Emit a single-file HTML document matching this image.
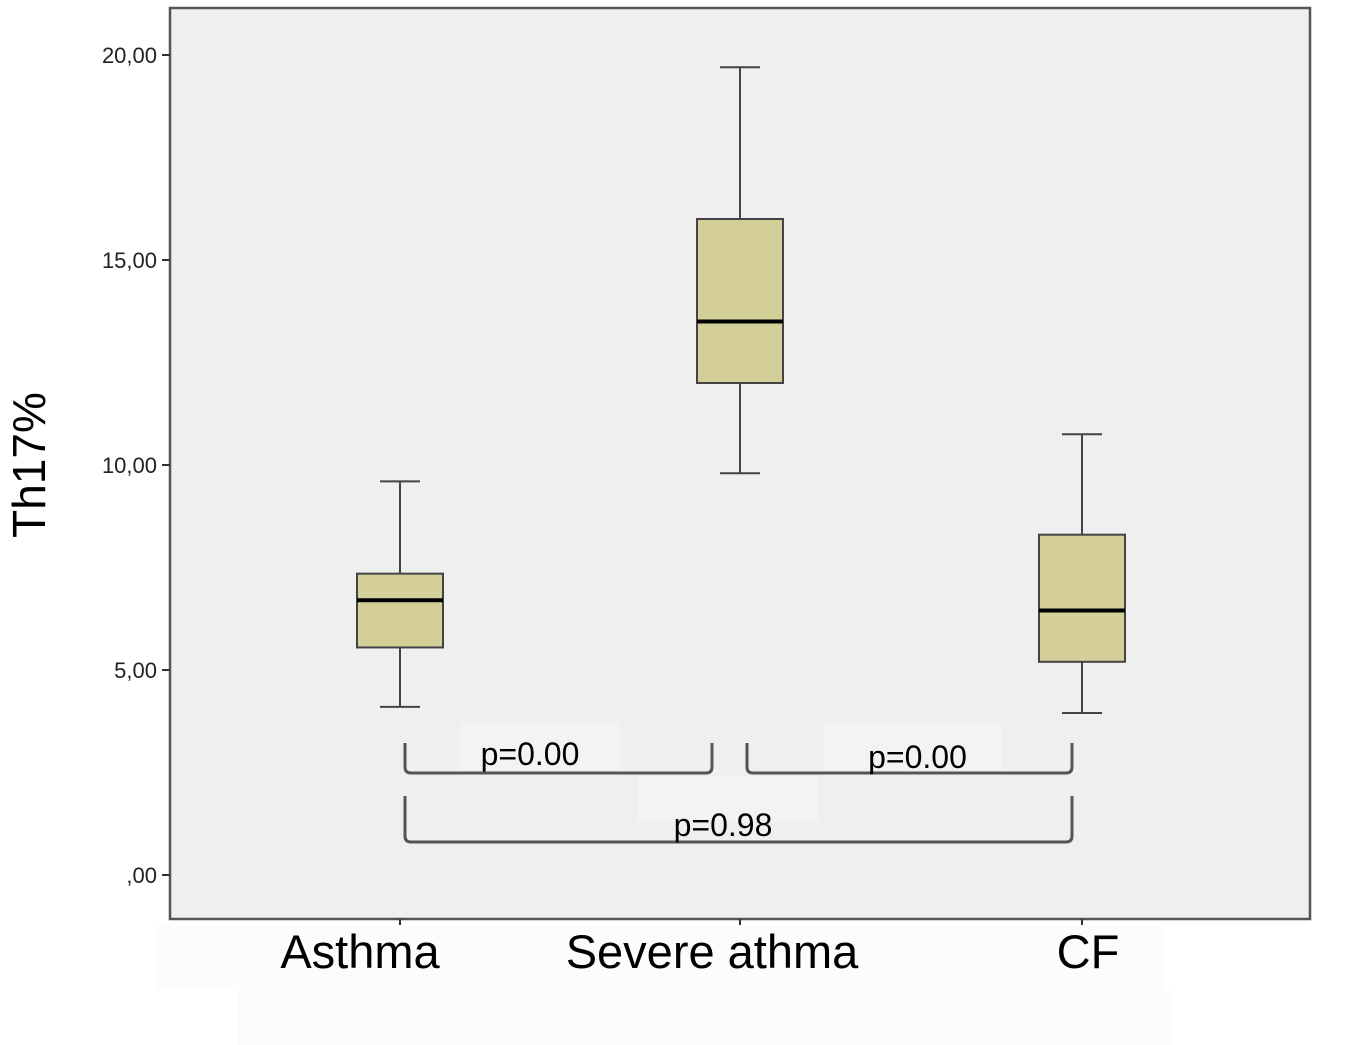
<!DOCTYPE html>
<html><head><meta charset="utf-8"><style>
body{margin:0;background:#fff;}
svg{display:block;font-family:"Liberation Sans",Arial,sans-serif;}
</style></head><body>
<svg id="c" width="1357" height="1045">
<rect x="155" y="925" width="1010" height="65" fill="#fcfcfc"/>
<rect x="238" y="990" width="935" height="55" fill="#fbfbfb"/>
<rect x="170" y="8" width="1140" height="911" fill="#efefef" stroke="#555" stroke-width="2.5"/>
<g id="axis"></g>
<g id="boxes"></g>
<g id="brackets" fill="none" stroke="#555" stroke-width="3"></g>
<text x="0" y="0" transform="translate(45,465) rotate(-90)" text-anchor="middle" font-size="46" fill="#000">Th17%</text>
</svg>
<script>
const categories = ["Asthma","Severe athma","CF"];
const whiskerLow = [4.1, 9.8, 3.95];
const q1 = [5.55, 12.0, 5.2];
const medians = [6.7, 13.5, 6.45];
const q3 = [7.35, 16.0, 8.3];
const whiskerHigh = [9.6, 19.7, 10.75];
const yTicks = [0,5,10,15,20];
const yTickLabels = [",00","5,00","10,00","15,00","20,00"];
const pLabels = ["p=0.00","p=0.00","p=0.98"];

const NS="http://www.w3.org/2000/svg";
const y = v => 875 - 41*v;
const x = i => [400,740,1082][i];
function mk(tag, attrs, parent){const e=document.createElementNS(NS,tag);for(const k in attrs)e.setAttribute(k,attrs[k]);parent.appendChild(e);return e;}
const ax=document.getElementById('axis'), bx=document.getElementById('boxes'), br=document.getElementById('brackets');

yTicks.forEach((t,i)=>{
  const l=mk('line',{x1:162,x2:170,y1:y(t),y2:y(t),stroke:'#333','stroke-width':2},ax);
  
  
  const tx=mk('text',{x:157,y:y(t)+8,'text-anchor':'end','font-size':22,fill:'#222'},ax);
  tx.textContent=yTickLabels[i];
  
  
});
categories.forEach((c,i)=>{
  const cx=x(i);
  const t=mk('line',{x1:cx,x2:cx,y1:919,y2:925,stroke:'#333','stroke-width':2},ax);
  
  
  const lbl=mk('text',{x:[360,712,1088][i],y:968,'text-anchor':'middle','font-size':47,fill:'#000'},ax);
  lbl.textContent=c;
  
  
  const g=mk('g',{},bx);
  
  
  mk('line',{x1:cx,x2:cx,y1:y(whiskerHigh[i]),y2:y(q3[i]),stroke:'#444','stroke-width':2},g);
  mk('line',{x1:cx,x2:cx,y1:y(q1[i]),y2:y(whiskerLow[i]),stroke:'#444','stroke-width':2},g);
  mk('line',{x1:cx-20,x2:cx+20,y1:y(whiskerHigh[i]),y2:y(whiskerHigh[i]),stroke:'#444','stroke-width':2},g);
  mk('line',{x1:cx-20,x2:cx+20,y1:y(whiskerLow[i]),y2:y(whiskerLow[i]),stroke:'#444','stroke-width':2},g);
  mk('rect',{x:cx-43,y:y(q3[i]),width:86,height:y(q1[i])-y(q3[i]),fill:'#d4cf98',stroke:'#444','stroke-width':2},g);
  mk('line',{x1:cx-43,x2:cx+43,y1:y(medians[i]),y2:y(medians[i]),stroke:'#000','stroke-width':4},g);
});
const brk=[[405,712,743,773,460,620,755,pLabels[0]],[747,1072,743,773,823,1002,758,pLabels[1]],[405,1072,796,842,638,818,826,pLabels[2]]];
brk.forEach((b,i)=>{
  const bg=mk('rect',{x:b[4],y:b[2]-20,width:b[5]-b[4],height:46,fill:'#f3f3f3',stroke:'none'},br);
  
  
  const p=mk('path',{d:`M${b[0]},${b[2]} V${b[3]-6} Q${b[0]},${b[3]} ${b[0]+6},${b[3]} H${b[1]-6} Q${b[1]},${b[3]} ${b[1]},${b[3]-6} V${b[2]}`},br);
  
  
  const t=mk('text',{x:(b[4]+b[5])/2+(i==0?-10:(i==2?-5:5)),y:b[6]+10,'text-anchor':'middle','font-size':32,fill:'#000',stroke:'none'},br);
  t.textContent=b[7];
  
  
});
</script>
</body></html>
